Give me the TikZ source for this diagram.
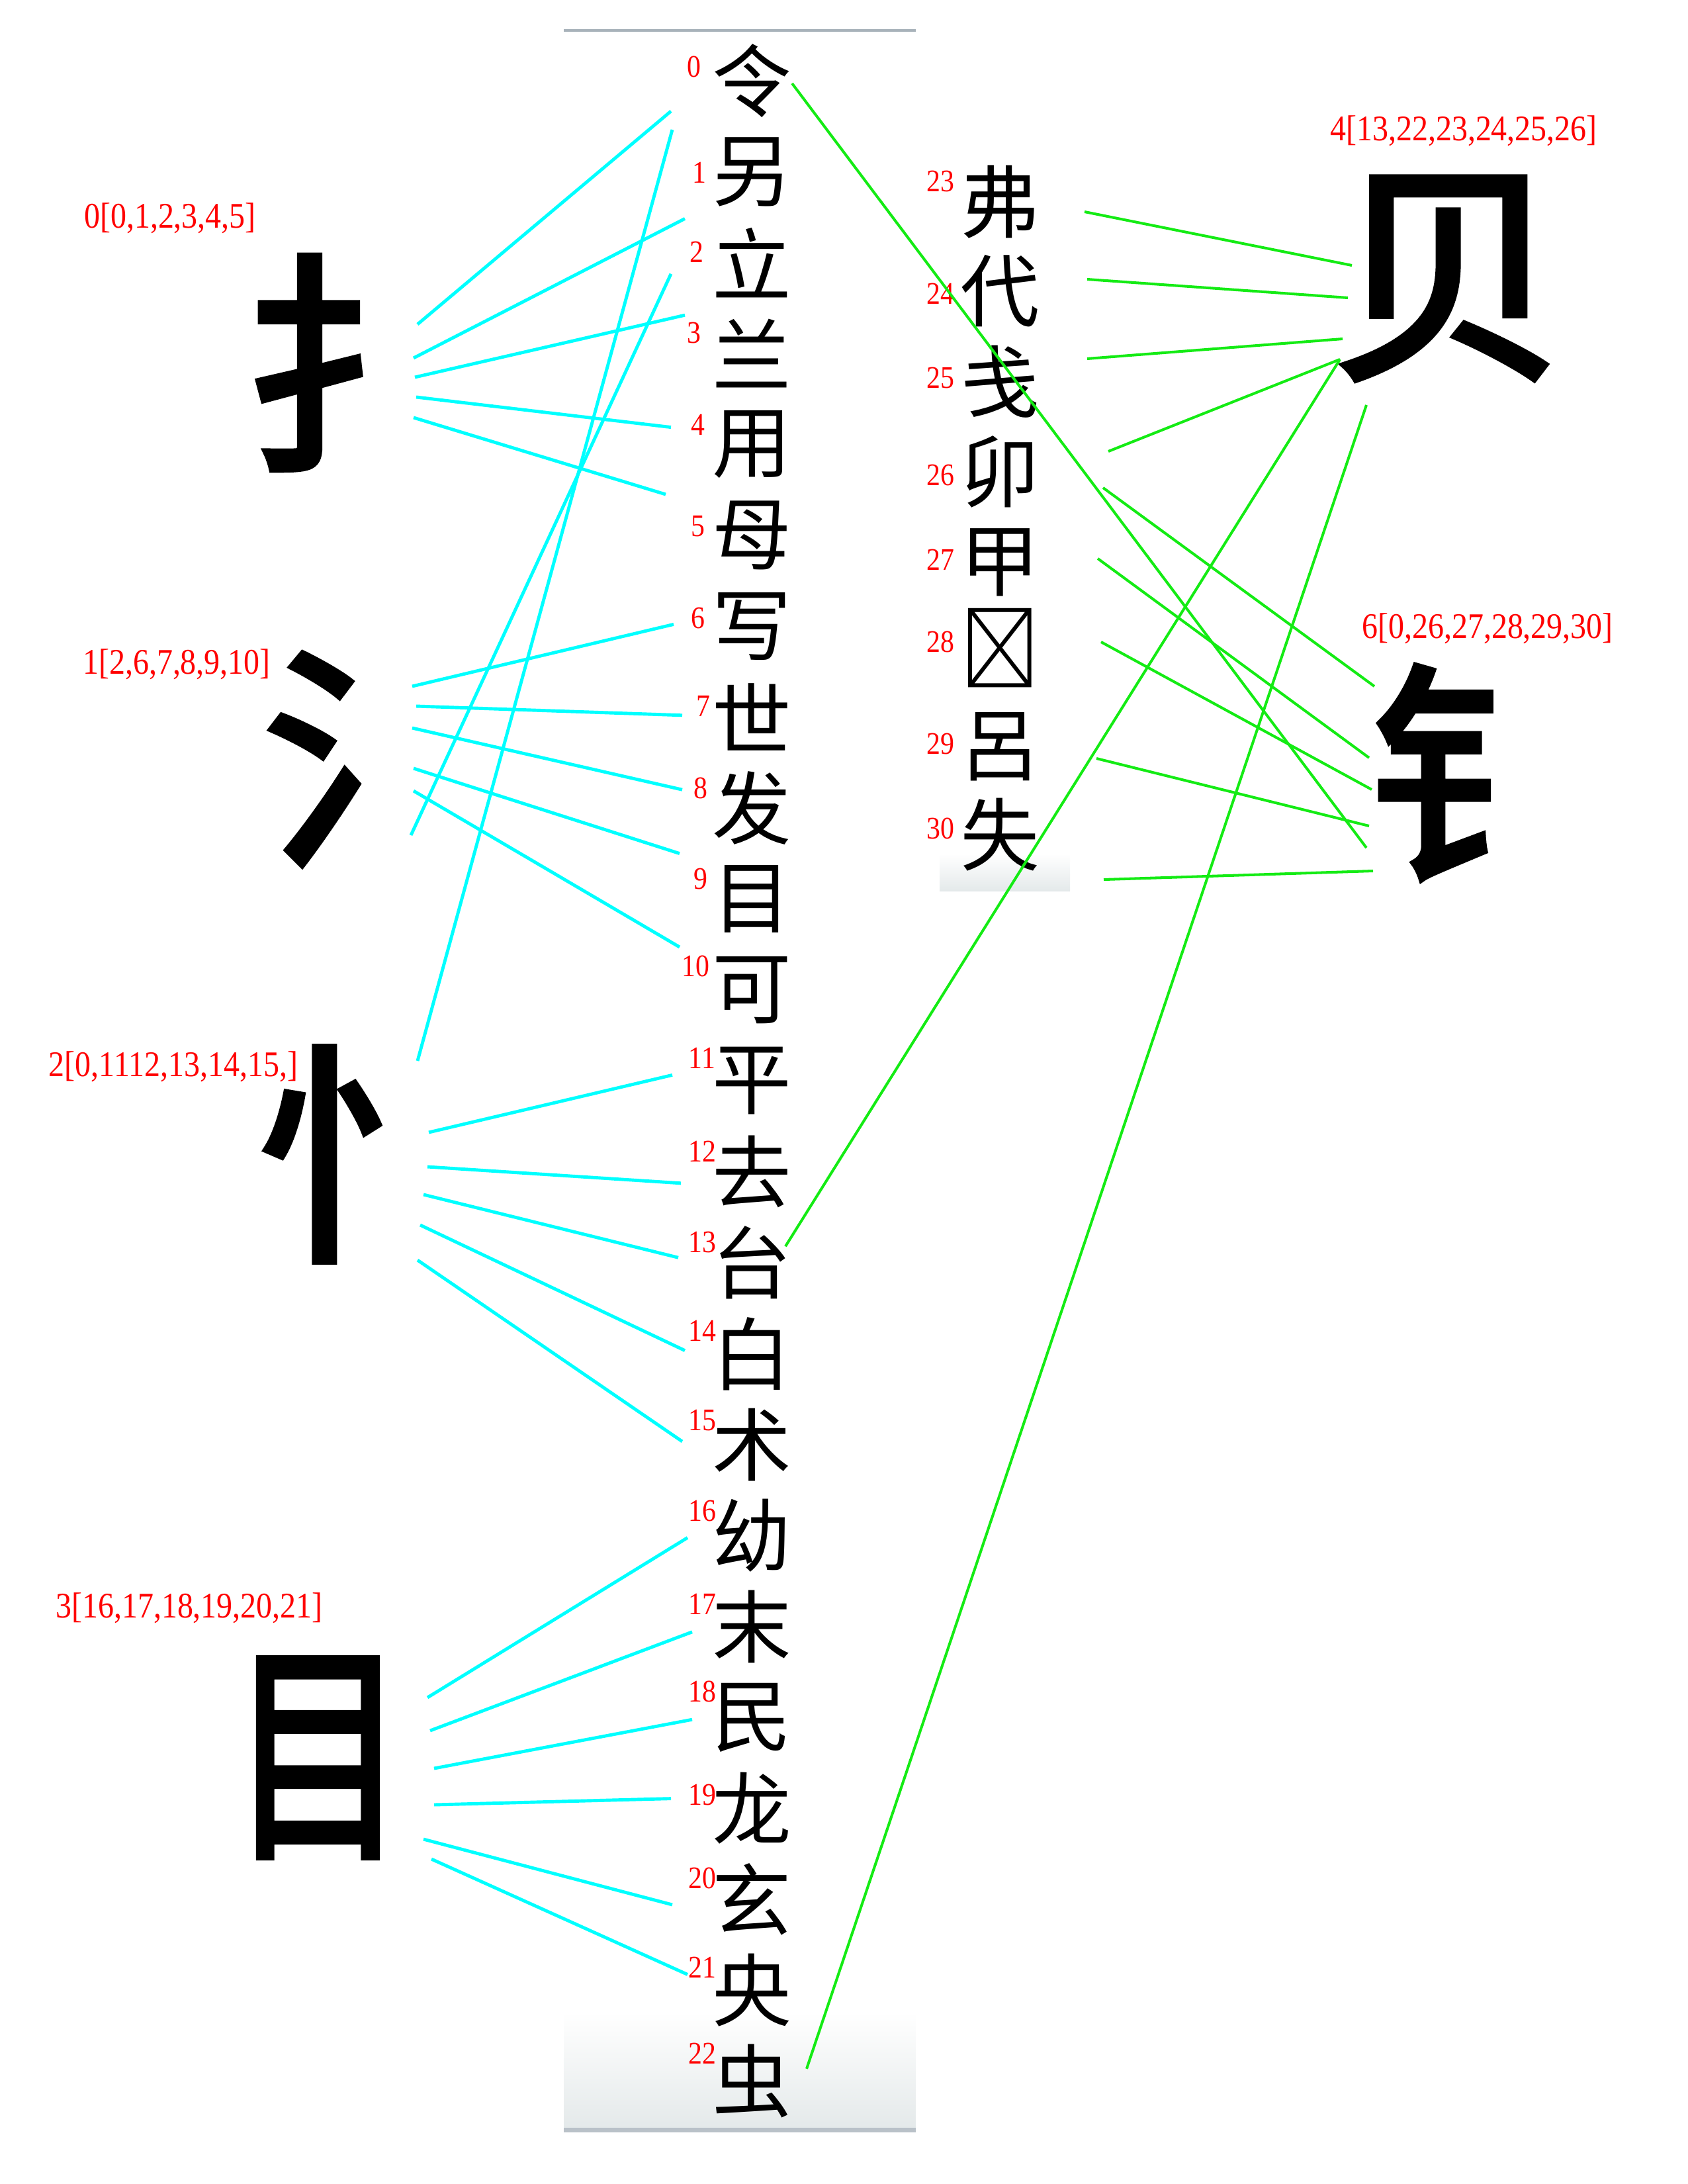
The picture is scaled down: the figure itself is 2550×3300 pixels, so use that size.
\documentclass[tikz,border=0pt]{standalone}
\usepackage{fontspec}
\setmainfont{Liberation Serif}
\newfontfamily\numfont[FakeStretch=0.88]{Liberation Serif}
\newfontfamily\cjk{Noto Sans CJK SC}
\newfontfamily\cjkb[FakeBold=3]{Noto Sans CJK SC}
\usetikzlibrary{positioning}
\definecolor{lineC}{RGB}{0,255,255}
\definecolor{lineG}{RGB}{20,235,20}
\definecolor{panelgray}{RGB}{228,233,234}
\definecolor{rimgray}{RGB}{168,178,186}

\begin{document}
\begin{tikzpicture}[x=0.01cm,y=-0.01cm,
  zi/.style={font=\cjk\fontsize{34}{34}\selectfont, inner sep=0pt},
  bushou/.style={font=\cjkb\fontsize{100}{100}\selectfont, inner sep=0pt},
  hao/.style={text=red, font=\numfont\fontsize{13.5}{13.5}\selectfont, inner sep=0pt, anchor=west},
  zu/.style={text=red, font=\numfont\fontsize{15.5}{15.5}\selectfont, inner sep=0pt},
  cl/.style={lineC, line width=1.4pt},
  gl/.style={lineG, line width=1.15pt}]
\useasboundingbox (0,0) rectangle (2550,3300);
% 字表底纹
\shade[top color=white, bottom color=panelgray] (852,3040) rectangle (1384,3216);
\draw[rimgray, line width=1pt] (852,46) -- (1384,46);
\draw[rimgray!80, line width=2pt] (852,3218) -- (1384,3218);
\shade[top color=white, bottom color=panelgray] (1420,1290) rectangle (1617,1346);

\foreach \z [count=\i from 0] in {令,另,立,兰,用,母,写,世,发,目,可,平,去,台,白,术,幼,末,民,龙,玄,央,虫}
  \node[zi] (c\i) at (1136,{122+137.4*\i}) {\z};
\foreach \i/\x/\y in {0/1038/101,1/1046/261,2/1042/381,3/1038/503,4/1044/642,5/1044/795,6/1044/934,
  7/1052/1067,8/1048/1191,9/1048/1328,10/1030/1460,11/1040/1599,12/1040/1740,13/1040/1877,14/1040/2011,
  15/1040/2146,16/1040/2283,17/1040/2424,18/1040/2556,19/1040/2712,20/1040/2838,21/1040/2973,22/1040/3103}
  \node[hao] (n\i) at (\x,\y) {\i};

\foreach \z/\i/\y/\ly in {弗/23/305/274,代/24/440/444,戋/25/577/571,卯/26/713/718,
  甲/27/850/846,𠬤/28/979/970,呂/29/1128/1124,失/30/1261/1252}{
  \node[zi] (c\i) at (1511,\y) {\z};
  \node[hao] (n\i) at (1400,\ly) {\i};
}

% 部首
\node[bushou] (r0) at (542,548) {扌};
\node[bushou] (r1) at (573,1147) {氵};
\node[bushou] (r2) at (560,1744) {忄};
\node[bushou] (r3) at (481,2656) {\scalebox{0.75}[1]{目}};
\node[bushou] (r4) at (2188,421) {贝};
\node[bushou] (r6) at (2243,1167) {钅};
\node[zu] (g0) at (257,330) {0[0,1,2,3,4,5]};
\node[zu] (g1) at (267,1004) {1[2,6,7,8,9,10]};
\node[zu] (g2) at (262,1612) {2[0,1112,13,14,15,]};
\node[zu] (g3) at (286,2430) {3[16,17,18,19,20,21]};
\node[zu] (g4) at (2212,198) {4[13,22,23,24,25,26]};
\node[zu] (g6) at (2248,950) {6[0,26,27,28,29,30]};

\foreach \s/\a/\b/\t/\c/\d in {r0/89/-58/c0/-122/46, r0/83/-7/c1/-101/71, r0/85/22/c3/-101/-58,
  r0/87/52/c4/-122/-26, r0/83/83/c5/-130/-62,
  r1/50/-110/c6/-118/-3, r1/56/-80/c7/-105/-3, r1/50/-47/c8/-105/-28, r1/52/14/c9/-109/-69,
  r1/52/48/c10/-109/-65, r1/48/115/c2/-122/17,
  r2/71/-141/c0/-120/74, r2/88/-33/c11/-120/-9, r2/86/19/c12/-107/17, r2/80/61/c13/-111/-8,
  r2/75/107/c14/-101/-5, r2/71/160/c15/-105/-5,
  r3/165/-91/c16/-97/3, r3/169/-41/c17/-90/8, r3/175/16/c18/-90/3, r3/175/71/c19/-122/-15,
  r3/159/123/c20/-120/8, r3/171/153/c21/-97/-24}
  \draw[cl] ([shift={(\a,\b)}]\s.center) -- ([shift={(\c,\d)}]\t.center);

\foreach \s/\a/\b/\t/\c/\d in {c23/128/15/r4/-145/-20, c24/132/-18/r4/-151/29, c25/132/-35/r4/-159/91,
  c26/164/-31/r4/-163/122, c13/51/-25/r4/-163/122, c22/83/-19/r4/-123/191,
  c0/61/4/r6/-178/114, c26/156/24/r6/-166/-130, c27/148/-6/r6/-174/-22, c28/153/-9/r6/-170/26,
  c29/146/18/r6/-174/81, c30/157/68/r6/-168/149}
  \draw[gl] ([shift={(\a,\b)}]\s.center) -- ([shift={(\c,\d)}]\t.center);
\end{tikzpicture}
\end{document}
